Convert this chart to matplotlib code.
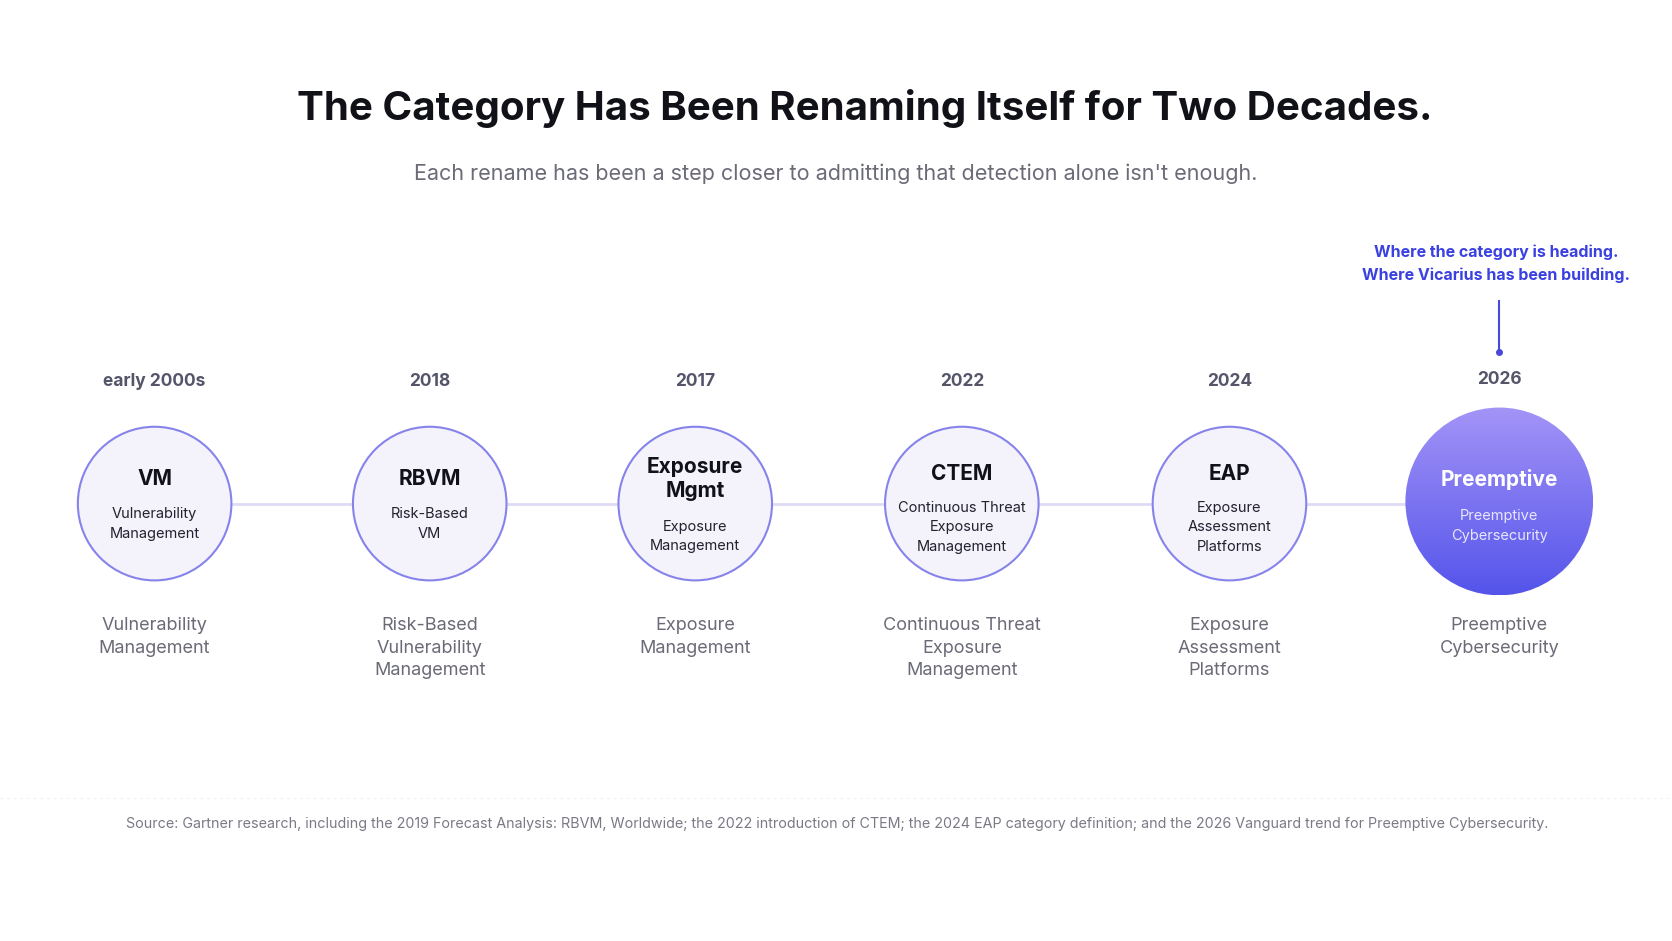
import matplotlib
matplotlib.use("Agg")
import matplotlib.pyplot as plt
import numpy as np
from matplotlib.patches import Circle

years = ["early 2000s", "2018", "2017", "2022", "2024", "2026"]
abbrevs = ["VM", "RBVM", "Exposure\nMgmt", "CTEM", "EAP", "Preemptive"]
inner = ["Vulnerability\nManagement", "Risk-Based\nVM", "Exposure\nManagement",
         "Continuous Threat\nExposure\nManagement", "Exposure\nAssessment\nPlatforms",
         "Preemptive\nCybersecurity"]
below = ["Vulnerability\nManagement", "Risk-Based\nVulnerability\nManagement", "Exposure\nManagement",
         "Continuous Threat\nExposure\nManagement", "Exposure\nAssessment\nPlatforms",
         "Preemptive\nCybersecurity"]
xs = [145, 403, 652, 902, 1153, 1406]

W, H = 1568, 882
fig = plt.figure(figsize=(16.72, 9.41), dpi=100)
ax = fig.add_axes([0, 0, 1, 1])
ax.set_xlim(0, W); ax.set_ylim(H, 0); ax.axis("off")
fam = ["Inter", "DejaVu Sans"]

ax.text(W/2 + 27, 102, "The Category Has Been Renaming Itself for Two Decades.", ha="center", va="center",
        fontsize=29, fontweight="bold", color="#111118", family=fam)
ax.text(W/2, 163, "Each rename has been a step closer to admitting that detection alone isn't enough.",
        ha="center", va="center", fontsize=15.5, color="#6b6b78", family=fam)

ax.plot([xs[0], xs[-1]], [472, 472], color="#dddcf4", lw=2, zorder=1)

for i, x in enumerate(xs):
    last = i == len(xs) - 1
    cy = 470 if last else 472
    r = 88 if last else 72
    ax.text(x, 356 if last else 358, years[i], ha="center", va="center", fontsize=12.5,
            fontweight="bold", color="#55556a", family=fam)
    if last:
        grad = np.linspace(0, 1, 256).reshape(-1, 1)
        c1 = np.array([0.64, 0.58, 0.97]); c2 = np.array([0.33, 0.33, 0.92])
        img = c1 + (c2 - c1) * grad[..., None]
        img = np.repeat(img, 2, axis=1)
        im = ax.imshow(img, extent=[x - r, x + r, cy + r, cy - r], zorder=2, aspect="auto")
        circ = Circle((x, cy), r, transform=ax.transData, facecolor="none", edgecolor="none")
        ax.add_patch(circ)
        im.set_clip_path(circ)
        ax.text(x, cy - 21, abbrevs[i], ha="center", va="center", fontsize=15, fontweight="bold",
                color="white", family=fam, zorder=3)
        ax.text(x, cy + 23, inner[i], ha="center", va="center", fontsize=10.5, color="#e8e6ff",
                family=fam, linespacing=1.5, zorder=3)
        ax.plot([x, x], [282, 330], color="#4a48d8", lw=1.5, zorder=3)
        ax.plot([x], [330], "o", color="#4a48d8", ms=4, zorder=3)
        ax.text(1403, 247, "Where the category is heading.\nWhere Vicarius has been building.",
                ha="center", va="center", fontsize=11.5, fontweight="bold", color="#3b40e0",
                family=fam, linespacing=1.6)
    else:
        ax.add_patch(Circle((x, cy), r, facecolor="#f4f3fc", edgecolor="#8683ea", lw=1.5, zorder=2))
        nlines = inner[i].count("\n") + 1
        if "\n" in abbrevs[i]:
            ax.text(x, cy - 23, abbrevs[i], ha="center", va="center", fontsize=15, fontweight="bold",
                    color="#111118", family=fam, zorder=3, linespacing=1.3)
            ax.text(x, cy + 31, inner[i], ha="center", va="center", fontsize=10.5, color="#222230",
                    family=fam, linespacing=1.5, zorder=3)
        else:
            ay = cy - 23 if nlines == 2 else cy - 28
            ax.text(x, ay, abbrevs[i], ha="center", va="center", fontsize=15, fontweight="bold",
                    color="#111118", family=fam, zorder=3)
            iy = cy + 19 if nlines == 2 else cy + 22
            ax.text(x, iy, inner[i], ha="center", va="center", fontsize=10.5, color="#222230",
                    family=fam, linespacing=1.5, zorder=3)
    ax.text(x, 578, below[i], ha="center", va="top", fontsize=13, color="#6b6b78",
            family=fam, linespacing=1.45)

ax.plot([0, W], [748, W*0 + 748], color="#eeeeee", lw=0.8, ls=(0, (2, 4)))
ax.text(785, 772, "Source: Gartner research, including the 2019 Forecast Analysis: RBVM, Worldwide; the 2022 "
        "introduction of CTEM; the 2024 EAP category definition; and the 2026 Vanguard trend for Preemptive Cybersecurity.",
        ha="center", va="center", fontsize=10.3, color="#7a7a86", family=fam)

fig.savefig("out.png", dpi=100, facecolor="white")
